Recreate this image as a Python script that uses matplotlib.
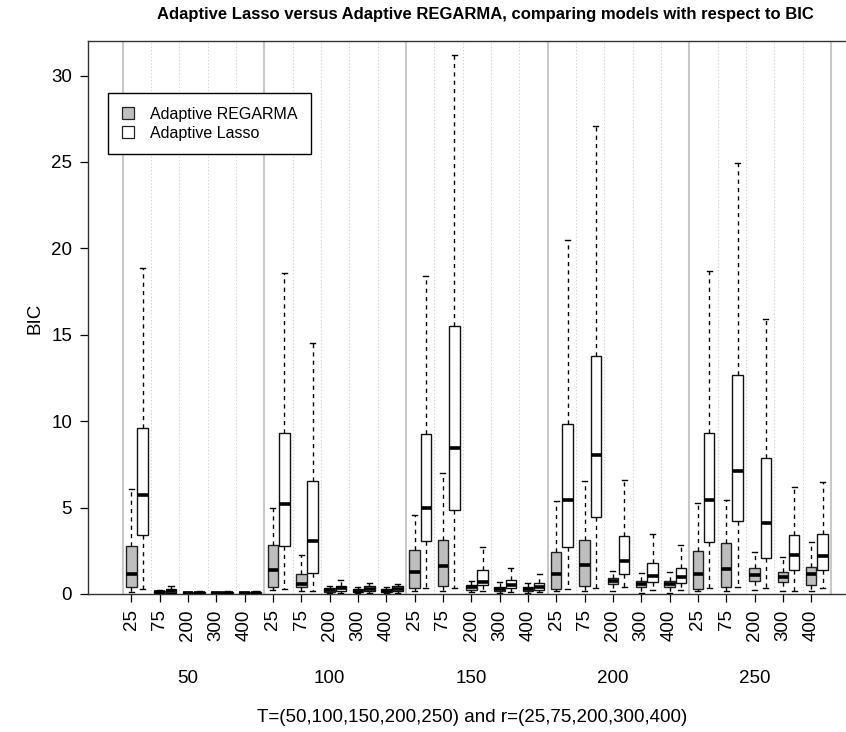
import matplotlib
matplotlib.use("Agg")
import matplotlib.pyplot as plt
from matplotlib.patches import Patch

plt.rcParams["font.family"] = ["Liberation Sans", "DejaVu Sans"]

# Sample sizes (groups) and r values (boxes within each group)
t_values = [50, 100, 150, 200, 250]
r_values = [25, 75, 200, 300, 400]

# Adaptive REGARMA: five-number summaries, ordered T-major then r
reg_low = [0.13, 0.03, 0.01, 0.01, 0.01,
           0.21, 0.17, 0.05, 0.05, 0.05,
           0.15, 0.20, 0.10, 0.08, 0.08,
           0.15, 0.20, 0.15, 0.08, 0.08,
           0.15, 0.20, 0.21, 0.15, 0.15]
reg_q1 = [0.39, 0.05, 0.03, 0.03, 0.03,
          0.42, 0.41, 0.12, 0.10, 0.10,
          0.36, 0.46, 0.25, 0.18, 0.18,
          0.29, 0.46, 0.58, 0.38, 0.38,
          0.29, 0.42, 0.78, 0.67, 0.53]
reg_med = [1.18, 0.10, 0.06, 0.06, 0.06,
           1.39, 0.58, 0.22, 0.20, 0.20,
           1.28, 1.63, 0.40, 0.30, 0.30,
           1.18, 1.68, 0.74, 0.55, 0.55,
           1.16, 1.43, 1.10, 1.00, 1.15]
reg_q3 = [2.80, 0.17, 0.10, 0.10, 0.10,
          2.86, 1.16, 0.35, 0.30, 0.30,
          2.55, 3.15, 0.50, 0.42, 0.42,
          2.45, 3.12, 0.93, 0.76, 0.76,
          2.48, 2.95, 1.48, 1.28, 1.56]
reg_high = [6.06, 0.22, 0.12, 0.12, 0.12,
            4.98, 2.24, 0.45, 0.42, 0.38,
            4.60, 6.98, 0.78, 0.68, 0.64,
            5.41, 6.53, 1.35, 1.20, 1.30,
            5.28, 5.45, 2.42, 2.15, 2.99]

# Adaptive Lasso: five-number summaries, same ordering
lasso_low = [0.31, 0.03, 0.01, 0.01, 0.01,
             0.27, 0.20, 0.08, 0.08, 0.08,
             0.32, 0.36, 0.15, 0.12, 0.12,
             0.30, 0.36, 0.42, 0.21, 0.21,
             0.32, 0.42, 0.36, 0.15, 0.36]
lasso_q1 = [3.40, 0.08, 0.04, 0.04, 0.04,
            2.78, 1.23, 0.17, 0.16, 0.16,
            3.09, 4.88, 0.50, 0.32, 0.25,
            2.70, 4.45, 1.16, 0.67, 0.61,
            3.03, 4.22, 2.06, 1.41, 1.37]
lasso_med = [5.71, 0.19, 0.08, 0.08, 0.08,
             5.21, 3.05, 0.32, 0.30, 0.30,
             4.96, 8.45, 0.72, 0.53, 0.43,
             5.45, 8.05, 1.90, 1.06, 1.00,
             5.43, 7.10, 4.10, 2.27, 2.17]
lasso_q3 = [9.63, 0.27, 0.12, 0.12, 0.12,
            9.30, 6.56, 0.46, 0.44, 0.44,
            9.27, 15.50, 1.40, 0.83, 0.64,
            9.85, 13.75, 3.38, 1.80, 1.52,
            9.30, 12.70, 7.85, 3.40, 3.45]
lasso_high = [18.86, 0.48, 0.15, 0.15, 0.15,
              18.60, 14.50, 0.80, 0.62, 0.58,
              18.40, 31.20, 2.70, 1.48, 1.18,
              20.50, 27.10, 6.57, 3.45, 2.82,
              18.70, 24.95, 15.94, 6.20, 6.50]

REG_FILL = "#bebebe"
W, H, DPI = 846, 732, 100
FS = 13.5

fig = plt.figure(figsize=(W / DPI, H / DPI), dpi=DPI)
# plot region in pixels: left 88, bottom 594, top 41; right runs past the canvas
left_px, right_px, top_px, bot_px = 88, 880, 41, 594
ax = fig.add_axes([left_px / W, 1 - bot_px / H,
                   (right_px - left_px) / W, (bot_px - top_px) / H])

n = len(t_values) * len(r_values)
pos = list(range(1, n + 1))
step = 28.33  # pixels per box slot
x0 = 1 - (131.3 - left_px) / step
x1 = 1 + (right_px - 131.3) / step
ax.set_xlim(x0, x1)
ax.set_ylim(0, 32)

# slot separators: solid between T groups, dotted between r values
for k in range(n + 1):
    xv = k + 1 - 0.3
    if k % len(r_values) == 0:
        ax.axvline(xv, color="#c8c8c8", lw=1.5, zorder=0)
    else:
        ax.axvline(xv, color="#cccccc", lw=0.8, ls=(0, (1, 2)), zorder=0)


def stats(lo, q1, med, q3, hi):
    return [dict(whislo=a, q1=b, med=c, q3=d, whishi=e, fliers=[])
            for a, b, c, d, e in zip(lo, q1, med, q3, hi)]


common = dict(widths=0.37, capwidths=0.18, patch_artist=True,
              showfliers=False, manage_ticks=False,
              medianprops=dict(color="black", lw=2.6, solid_capstyle="butt"),
              whiskerprops=dict(color="black", lw=1.0, ls=(0, (3, 3))),
              capprops=dict(color="black", lw=1.0), zorder=3)

ax.bxp(stats(reg_low, reg_q1, reg_med, reg_q3, reg_high), positions=pos,
       boxprops=dict(facecolor=REG_FILL, edgecolor="#222222", lw=1.0), **common)
ax.bxp(stats(lasso_low, lasso_q1, lasso_med, lasso_q3, lasso_high),
       positions=[p + 0.4 for p in pos],
       boxprops=dict(facecolor="white", edgecolor="#111111", lw=1.0), **common)

ax.set_xticks(pos)
ax.set_xticklabels([str(r) for _ in t_values for r in r_values],
                   rotation=90, fontsize=FS)
ax.set_yticks(range(0, 31, 5))
ax.tick_params(axis="y", labelsize=FS, length=6, width=0.9, pad=5.5)
ax.tick_params(axis="x", length=6, width=0.9, pad=5)

for s in ("left", "top", "bottom"):
    ax.spines[s].set_color("#333333")
    ax.spines[s].set_linewidth(1.0)
ax.spines["right"].set_visible(False)

# T group labels under each block of r ticks
for g, t in enumerate(t_values):
    xc = g * len(r_values) + 3
    ax.text(xc, -0.152, str(t), transform=ax.get_xaxis_transform(),
            ha="center", va="center", fontsize=FS)

fig.text(472 / W, 1 - 718 / H, "T=(50,100,150,200,250) and r=(25,75,200,300,400)",
         ha="center", va="center", fontsize=FS)
fig.text(35 / W, 1 - 318 / H, "BIC", rotation=90, ha="center", va="center",
         fontsize=FS)
fig.text(485 / W, 1 - 15 / H,
         "Adaptive Lasso versus Adaptive REGARMA, comparing models with respect to BIC",
         ha="center", va="center", fontsize=12, fontweight="bold")

handles = [Patch(facecolor=REG_FILL, edgecolor="#222222", lw=0.9),
           Patch(facecolor="white", edgecolor="#222222", lw=0.9)]
leg = fig.legend(handles, ["Adaptive REGARMA", "Adaptive Lasso"],
                 loc="upper left", bbox_to_anchor=(108 / W, 1 - 93 / H),
                 fontsize=11.5, frameon=True, fancybox=False, framealpha=1,
                 edgecolor="black", handlelength=0.75, handleheight=0.75,
                 handletextpad=1.0, borderpad=0.85, labelspacing=0.25,
                 borderaxespad=0)
leg.get_frame().set_linewidth(1.0)

fig.savefig("out.png", dpi=DPI)
